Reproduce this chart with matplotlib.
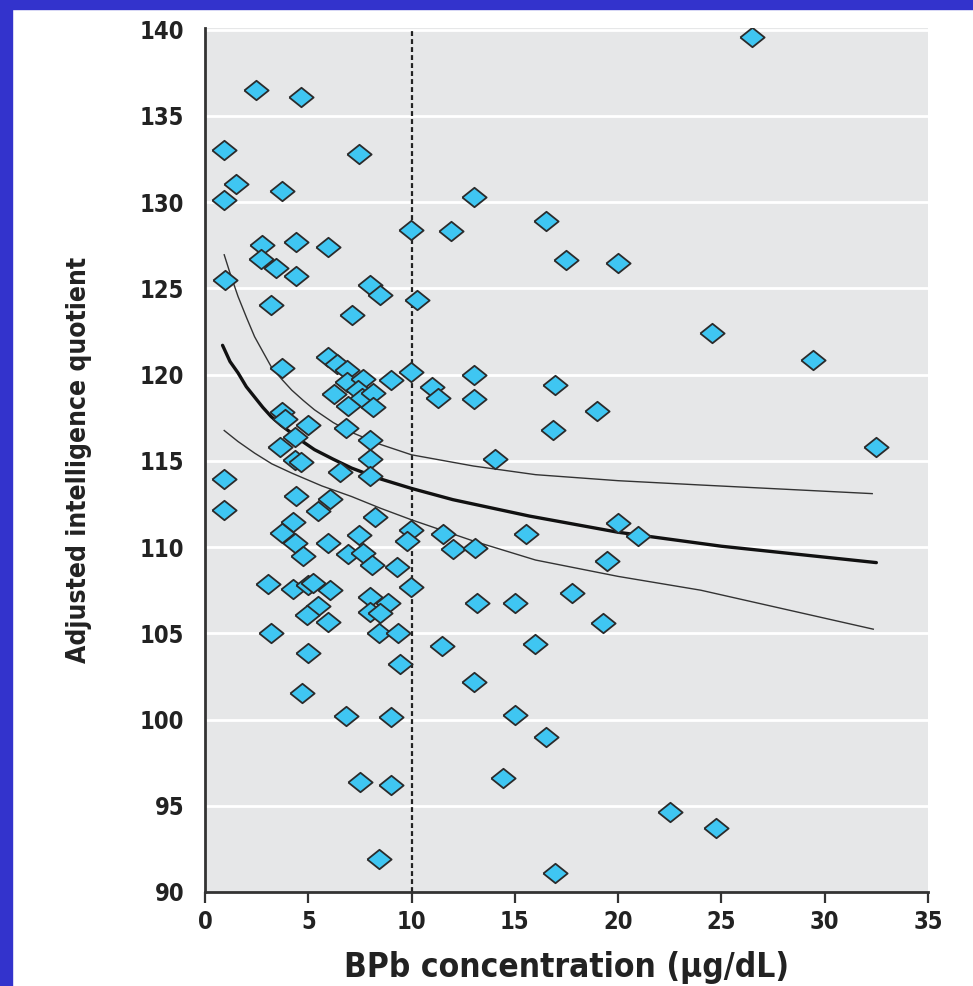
import matplotlib
matplotlib.use("Agg")
import matplotlib.pyplot as plt
from matplotlib import font_manager as fm

# ---------------- data ----------------
bpb = [2.47, 4.65, 0.93, 7.47, 1.48, 0.93, 3.71, 9.97, 11.9, 2.74, 4.42, 5.97, 2.69, 3.44,
       4.39, 0.97, 7.99, 8.47, 10.25, 3.19, 7.1, 3.71, 5.94, 6.37, 6.86, 6.86, 7.66, 9.0,
       9.97, 10.97, 11.26, 6.26, 7.42, 7.58, 8.15, 6.9, 8.11, 3.74, 3.87, 4.97, 6.81, 4.36,
       7.98, 3.63, 4.36, 4.65, 7.98, 0.93, 6.53, 7.99, 4.39, 0.93, 6.05, 5.49, 8.23, 4.24,
       3.71, 4.36, 5.94, 7.47, 9.97, 9.76, 11.54, 12.0, 4.76, 6.94, 7.63, 8.07, 9.28, 9.97,
       3.03, 4.27, 5.0, 5.24, 6.05, 7.99, 8.84, 5.49, 4.92, 5.97, 7.99, 8.47, 3.19, 8.44,
       9.33, 11.49, 4.97, 9.44, 4.68, 6.82, 9.0, 7.5, 9.0, 8.44, 13.04, 16.49, 17.47, 20.0,
       13.04, 13.04, 16.94, 19.0, 16.83, 14.04, 20.0, 20.97, 15.54, 13.07, 19.47, 17.75,
       13.15, 15.0, 19.28, 15.97, 13.02, 15.0, 16.5, 14.41, 22.5, 24.73, 16.94, 26.5,
       24.54, 29.43, 32.48]
iq = [136.5, 136.07, 133.0, 132.8, 131.07, 130.14, 130.66, 128.4, 128.3, 127.5, 127.7, 127.4,
      126.7, 126.2, 125.7, 125.46, 125.17, 124.6, 124.3, 124.05, 123.47, 120.38, 121.05,
      120.63, 120.24, 119.6, 119.74, 119.7, 120.18, 119.27, 118.67, 118.89, 119.1, 118.64,
      118.93, 118.2, 118.15, 117.86, 117.4, 117.1, 116.93, 116.4, 116.2, 115.8, 115.06,
      114.96, 115.1, 113.94, 114.38, 114.15, 112.97, 112.16, 112.78, 112.12, 111.77, 111.48,
      110.8, 110.26, 110.26, 110.7, 111.0, 110.38, 110.77, 109.9, 109.5, 109.6, 109.65,
      108.97, 108.87, 107.7, 107.87, 107.56, 107.8, 107.9, 107.52, 107.13, 106.78, 106.6,
      106.07, 105.68, 106.26, 106.2, 105.0, 105.0, 105.0, 104.29, 103.85, 103.23, 101.53,
      100.2, 100.17, 96.4, 96.2, 91.9, 130.3, 128.92, 126.62, 126.5, 119.95, 118.58,
      119.37, 117.92, 116.8, 115.12, 111.42, 110.65, 110.75, 109.97, 109.22, 107.36,
      106.75, 106.75, 105.59, 104.39, 102.16, 100.27, 99.0, 96.63, 94.66, 93.69, 91.09,
      139.57, 122.42, 120.86, 115.81]

fit_x = [0.85, 1.21, 1.6, 2.0, 2.4, 2.8, 3.2, 3.7, 4.2, 4.75, 5.3, 6.2, 7.1, 8.5, 10.0,
         12.0, 15.7, 20.0, 25.0, 32.5]
fit_y = [121.7, 120.76, 120.1, 119.3, 118.7, 118.1, 117.57, 117.05, 116.6, 116.1, 115.65,
         115.1, 114.58, 113.95, 113.4, 112.75, 111.8, 110.86, 110.05, 109.1]

upper_x = [0.93, 1.21, 1.6, 2.02, 2.4, 2.82, 3.2, 3.71, 4.2, 4.76, 5.3, 6.21, 7.0, 8.5,
           10.0, 13.0, 16.0, 20.0, 24.0, 32.3]
upper_y = [126.95, 125.89, 124.53, 123.28, 122.2, 121.29, 120.47, 119.74, 119.1, 118.5,
           117.96, 117.22, 116.7, 115.95, 115.35, 114.7, 114.2, 113.85, 113.6, 113.1]

lower_x = [0.93, 1.6, 2.4, 3.23, 4.2, 5.65, 7.1, 8.5, 10.0, 13.0, 16.0, 20.0, 24.0, 32.35]
lower_y = [116.76, 116.12, 115.45, 114.83, 114.29, 113.55, 112.93, 112.25, 111.58, 110.35,
           109.25, 108.3, 107.5, 105.24]

x_ticks = [0, 5, 10, 15, 20, 25, 30, 35]
y_ticks = [90, 95, 100, 105, 110, 115, 120, 125, 130, 135, 140]
ref_line = 10

# ---------------- fonts ----------------
available = {f.name for f in fm.fontManager.ttflist}
if "Liberation Sans Narrow" in available:
    fam = ["Liberation Sans Narrow", "DejaVu Sans"]
    stretch = "normal"
else:
    fam = ["DejaVu Sans"]
    stretch = "condensed"
plt.rcParams["font.family"] = fam

fig = plt.figure(figsize=(9.73, 9.86), dpi=100)
fig.patch.set_facecolor("white")

border = "#3333cc"
fig.add_artist(plt.Rectangle((0, 0), 12 / 973, 1, transform=fig.transFigure,
                             color=border, zorder=0))
fig.add_artist(plt.Rectangle((0, 1 - 9 / 986), 1, 9 / 986, transform=fig.transFigure,
                             color=border, zorder=0))

ax = fig.add_axes([205 / 973, 1 - 892 / 986, (928 - 205) / 973, (892 - 28) / 986])
ax.set_facecolor("#e6e7e8")
ax.set_xlim(0, 35)
ax.set_ylim(90, 140.1)

for yv in y_ticks[1:]:
    ax.axhline(yv, color="white", lw=2, zorder=1)

ax.axvline(ref_line, color="#222222", lw=1.6, ls=(0, (2.2, 1.4)), zorder=2)

ax.plot(upper_x, upper_y, color="#333333", lw=1.0, zorder=3, solid_joinstyle="round")
ax.plot(lower_x, lower_y, color="#333333", lw=1.0, zorder=3, solid_joinstyle="round")
ax.plot(fit_x, fit_y, color="#111111", lw=2.4, zorder=3, solid_joinstyle="round",
        solid_capstyle="round")

diamond = [(-1, 0), (0, 0.8), (1, 0), (0, -0.8), (-1, 0)]
ax.scatter(bpb, iq, marker=diamond, s=17.5 ** 2, facecolor="#3fc6f2",
           edgecolor="#2b2b2b", linewidths=1.3, zorder=4)

for s in ["top", "right"]:
    ax.spines[s].set_visible(False)
for s in ["left", "bottom"]:
    ax.spines[s].set_color("#333333")
    ax.spines[s].set_linewidth(2)
    ax.spines[s].set_zorder(5)

ax.set_xticks(x_ticks)
ax.set_yticks(y_ticks)
ax.tick_params(axis="x", direction="out", length=8, width=1.6, color="#333333",
               pad=5, labelsize=17)
ax.tick_params(axis="y", length=0, pad=15, labelsize=17)
for lab in ax.get_xticklabels() + ax.get_yticklabels():
    lab.set_fontweight("bold")
    lab.set_fontstretch(stretch)
    lab.set_color("#222222")

ax.set_xlabel("BPb concentration (\u00b5g/dL)", fontsize=24, fontweight="bold",
              fontstretch=stretch, color="#222222", labelpad=12)
ax.set_ylabel("Adjusted intelligence quotient", fontsize=19, fontweight="bold",
              fontstretch=stretch, color="#222222", labelpad=34)

fig.savefig("out.png", dpi=100)
